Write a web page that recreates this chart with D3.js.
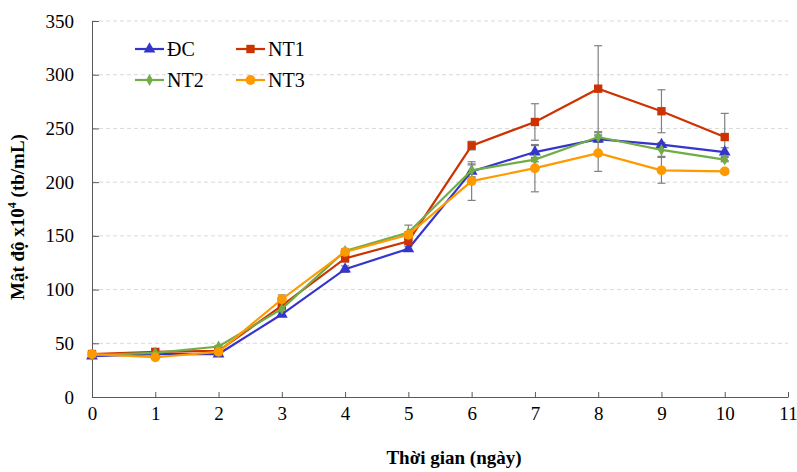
<!DOCTYPE html>
<html>
<head>
<meta charset="utf-8">
<script src="https://cdn.jsdelivr.net/npm/d3@7"></script>
<style>
  body { margin: 0; background: #fff; }
  svg, svg text { font-family: "Liberation Serif", "DejaVu Serif", serif; }
</style>
</head>
<body>
<div id="chart"></div>
<script>
// data
const days = [0, 1, 2, 3, 4, 5, 6, 7, 8, 9, 10]
const seriesNames = ["ĐC", "NT1", "NT2", "NT3"]
const dcValues  = [38, 40, 40, 77, 119, 138, 210, 228, 240, 235, 228]
const nt1Values = [40, 42, 43, 85, 129, 145, 234, 256, 287, 266, 242]
const nt2Values = [39, 41, 47, 82, 136, 153, 211, 221, 242, 230, 221]
const nt3Values = [40, 37, 42, 91, 135, 151, 201, 213, 227, 211, 210]
const dcErr  = [1, 1, 1, 2, 3, 2, 6, 6, 3, 2, 4]
const nt1Err = [1, 2, 2, 3, 3, 3, 4, 17, 40, 20, 22]
const nt2Err = [1, 1, 1, 2, 2, 7, 6, 2, 4, 6, 2]
const nt3Err = [1, 1, 2, 4, 2, 3, 18, 22, 17, 12, 2]
const yTicks = [0, 50, 100, 150, 200, 250, 300, 350]
const xTicks = [0, 1, 2, 3, 4, 5, 6, 7, 8, 9, 10, 11]

const colors = ["#3535cc", "#cc3300", "#70ad47", "#ff9900"]
const shapes = [d3.symbolTriangle, d3.symbolSquare, d3.symbolDiamond, d3.symbolCircle]
const sizes = [60, 70, 40, 75]

const W = 797, H = 472
const margin = { left: 92, right: 9, top: 21, bottom: 75 }
const FONT = "Liberation Serif, DejaVu Serif, serif"

const svg = d3.select("#chart").append("svg")
    .attr("width", W)
    .attr("height", H)
    .attr("font-family", FONT)

const x = d3.scaleLinear().domain([0, 11]).range([margin.left, W - margin.right])
const y = d3.scaleLinear().domain([0, 350]).range([H - margin.bottom, margin.top])

// grid
svg.append("g")
    .selectAll("line")
    .data(yTicks.slice(1))
    .enter()
    .append("line")
    .attr("x1", x(0))
    .attr("x2", x(11))
    .attr("y1", d => y(d))
    .attr("y2", d => y(d))
    .attr("stroke", "#d9d9d9")
    .attr("stroke-dasharray", "4,3")

// axes
const xAxis = svg.append("g")
    .attr("transform", "translate(0," + y(0) + ")")
    .call(d3.axisBottom(x).tickValues(xTicks).tickSize(-5).tickPadding(10).tickSizeOuter(0))
xAxis.attr("font-family", FONT)
xAxis.select(".domain").attr("stroke", "#595959")
xAxis.selectAll(".tick line").attr("stroke", "#595959")
xAxis.selectAll("text").attr("font-size", 19).attr("fill", "#000").attr("font-family", FONT)

const yAxis = svg.append("g")
    .attr("transform", "translate(" + x(0) + ",0)")
    .call(d3.axisLeft(y).tickValues(yTicks).tickSize(-7).tickPadding(18).tickSizeOuter(0))
yAxis.attr("font-family", FONT)
yAxis.select(".domain").attr("stroke", "#595959")
yAxis.selectAll(".tick line").attr("stroke", "#595959")
yAxis.selectAll("text").attr("font-size", 19).attr("fill", "#000").attr("font-family", FONT)

// axis titles
svg.append("text")
    .attr("x", 454)
    .attr("y", 464)
    .attr("text-anchor", "middle")
    .attr("font-size", 19)
    .attr("font-weight", "bold")
    .text("Thời gian (ngày)")

const yTitle = svg.append("text")
    .attr("transform", "translate(24," + ((y(0) + y(350)) / 2 + 8) + ") rotate(-90)")
    .attr("text-anchor", "middle")
    .attr("font-size", 19)
    .attr("font-weight", "bold")
yTitle.append("tspan").text("Mật độ x10")
yTitle.append("tspan").attr("font-size", 12).attr("dy", -8).text("4")
yTitle.append("tspan").attr("dy", 8).text(" (tb/mL)")

const allValues = [dcValues, nt1Values, nt2Values, nt3Values]
const allErr = [dcErr, nt1Err, nt2Err, nt3Err]

const line = d3.line()
    .x((d, i) => x(days[i]))
    .y(d => y(d))

// error bars first, lines and markers on top
allValues.forEach((vals, s) => {
    const g = svg.append("g")
    const errs = allErr[s]
    g.selectAll("line.err")
        .data(vals)
        .enter()
        .append("line")
        .attr("x1", (d, i) => x(days[i]))
        .attr("x2", (d, i) => x(days[i]))
        .attr("y1", (d, i) => y(d - errs[i]))
        .attr("y2", (d, i) => y(d + errs[i]))
        .attr("stroke", "#808080")
        .attr("stroke-width", 1.2)
    ;[1, -1].forEach(sign => {
        g.selectAll("line.cap" + sign)
            .data(vals)
            .enter()
            .append("line")
            .attr("x1", (d, i) => x(days[i]) - 4)
            .attr("x2", (d, i) => x(days[i]) + 4)
            .attr("y1", (d, i) => y(d + sign * errs[i]))
            .attr("y2", (d, i) => y(d + sign * errs[i]))
            .attr("stroke", "#808080")
            .attr("stroke-width", 1.2)
    })
})

allValues.forEach((vals, s) => {
    svg.append("path")
        .datum(vals)
        .attr("d", line)
        .attr("fill", "none")
        .attr("stroke", colors[s])
        .attr("stroke-width", 2.2)
    svg.append("g")
        .selectAll("path")
        .data(vals)
        .enter()
        .append("path")
        .attr("d", d3.symbol().type(shapes[s]).size(sizes[s]))
        .attr("transform", (d, i) => "translate(" + x(days[i]) + "," + y(d) + ")")
        .attr("fill", colors[s])
})

// legend
const legendPos = [[135, 49], [236, 49], [135, 80], [236, 80]]
seriesNames.forEach((name, s) => {
    const [lx, ly] = legendPos[s]
    const g = svg.append("g").attr("transform", "translate(" + lx + "," + ly + ")")
    g.append("line")
        .attr("x1", 0).attr("x2", 29)
        .attr("stroke", colors[s])
        .attr("stroke-width", 2.2)
    g.append("path")
        .attr("d", d3.symbol().type(shapes[s]).size(sizes[s]))
        .attr("transform", "translate(14.5,0)")
        .attr("fill", colors[s])
    g.append("text")
        .attr("x", 32)
        .attr("y", 6.5)
        .attr("font-size", 20)
        .text(name)
})
</script>
</body>
</html>
